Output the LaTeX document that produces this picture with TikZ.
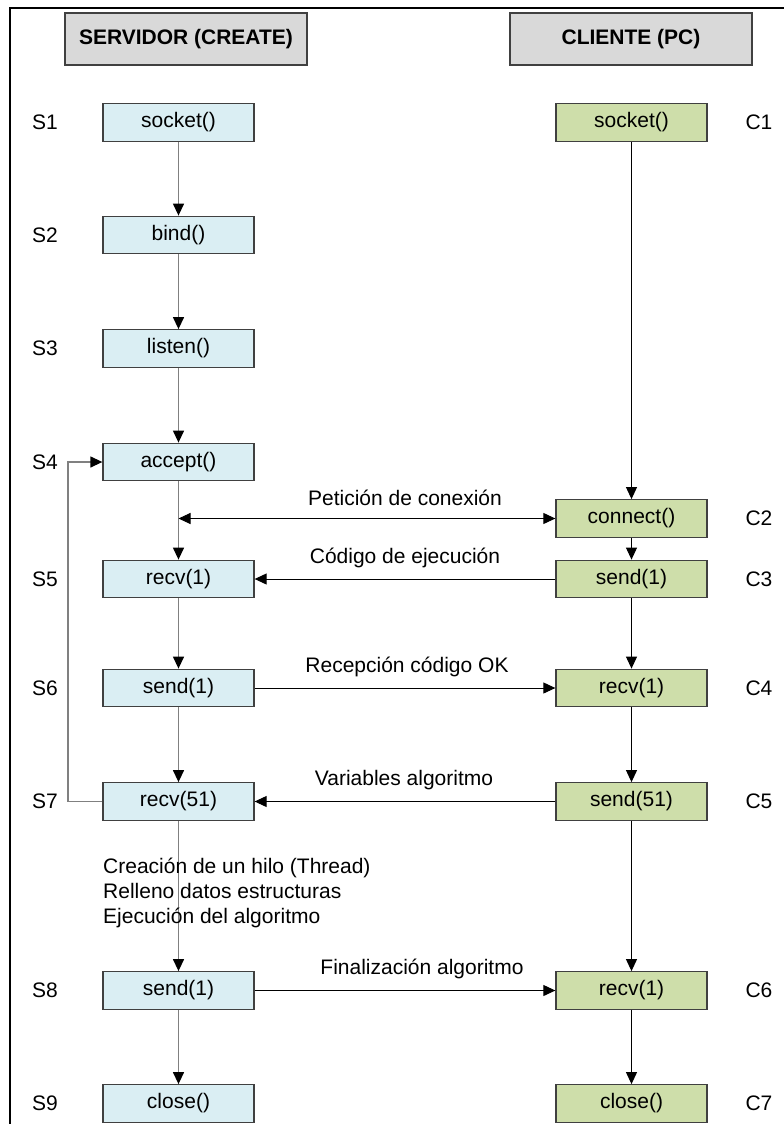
\documentclass[tikz,border=0pt]{standalone}
\usepackage{fontspec}
\setmainfont{Liberation Sans}
\usetikzlibrary{arrows.meta}
\definecolor{srvfill}{RGB}{218,238,243}
\definecolor{clifill}{RGB}{206,222,170}
\definecolor{hdrfill}{RGB}{217,217,217}
\definecolor{boxline}{RGB}{64,64,64}
\definecolor{srvline}{RGB}{128,128,128}
\tikzset{
  base/.style={font=\fontsize{21}{25}\selectfont},
  srvbox/.style={base, draw=boxline, line width=1.3pt, fill=srvfill, minimum width=151pt, minimum height=37.5pt, inner sep=0pt},
  clibox/.style={base, draw=boxline, line width=1.3pt, fill=clifill, minimum width=151pt, minimum height=37.5pt, inner sep=0pt},
  hdrbox/.style={base, font=\fontsize{21}{25}\selectfont\bfseries, draw=boxline, line width=1.3pt, fill=hdrfill, minimum width=242pt, minimum height=52pt, inner sep=0pt},
  steplbl/.style={base, inner sep=0pt},
  msglbl/.style={base, inner sep=0pt},
  tip/.style={-{Triangle[length=12pt,width=11pt,color=black,fill=black]}},
  srvarrow/.style={tip, draw=srvline, line width=1.3pt},
  cliarrow/.style={tip, draw=black, line width=1pt},
  msgarrow/.style={tip, draw=black, line width=1pt},
  frame/.style={line width=2.5pt, draw=black}
}
\begin{document}
\begin{tikzpicture}[x=1pt,y=-1pt]
\useasboundingbox (0,0) rectangle (784,1124);
% frame
\coordinate (f1) at (10,1130);
\coordinate (f2) at (10,8);
\coordinate (f3) at (790,8);
\draw[frame] (f1) -- (f2) -- (f3);
% headers
\node[hdrbox] (HS) at (186,39) {SERVIDOR (CREATE)};
\node[hdrbox] (HC) at (631,39) {CLIENTE (PC)};
% server boxes
\node[srvbox] (S1) at (178.5,122.5) {socket()};
\node[srvbox] (S2) at (178.5,235) {bind()};
\node[srvbox] (S3) at (178.5,348.5) {listen()};
\node[srvbox] (S4) at (178.5,462) {accept()};
\node[srvbox] (S5) at (178.5,579) {recv(1)};
\node[srvbox] (S6) at (178.5,688) {send(1)};
\node[srvbox] (S7) at (178.5,801.5) {recv(51)};
\node[srvbox] (S8) at (178.5,990.5) {send(1)};
\node[srvbox] (S9) at (178.5,1103.5) {close()};
% client boxes
\node[clibox] (C1) at (631.5,122.5) {socket()};
\node[clibox] (C2) at (631.5,518.5) {connect()};
\node[clibox] (C3) at (631.5,579) {send(1)};
\node[clibox] (C4) at (631.5,688) {recv(1)};
\node[clibox] (C5) at (631.5,801.5) {send(51)};
\node[clibox] (C6) at (631.5,990.5) {recv(1)};
\node[clibox] (C7) at (631.5,1103.5) {close()};
% step labels
\foreach \n/\y in {1/122.5,2/235,3/348.5,4/462,5/579,6/688,7/801.5,8/990.5,9/1103.5}
  \node[steplbl] (sl\n) at (45,\y) {S\n};
\foreach \n/\y in {1/122.5,2/518.5,3/579,4/688,5/801.5,6/990.5,7/1103.5}
  \node[steplbl] (cl\n) at (759,\y) {C\n};
% server vertical arrows
\draw[srvarrow] (S1) -- (S2);
\draw[srvarrow] (S2) -- (S3);
\draw[srvarrow] (S3) -- (S4);
\draw[srvarrow] (S4) -- (S5);
\draw[srvarrow] (S5) -- (S6);
\draw[srvarrow] (S6) -- (S7);
\draw[srvarrow] (S7) -- (S8);
\draw[srvarrow] (S8) -- (S9);
% client vertical arrows
\draw[cliarrow] (C1) -- (C2);
\draw[cliarrow] (C2) -- (C3);
\draw[cliarrow] (C3) -- (C4);
\draw[cliarrow] (C4) -- (C5);
\draw[cliarrow] (C5) -- (C6);
\draw[cliarrow] (C6) -- (C7);
% loop back
\coordinate (L1) at (68,801.5);
\coordinate (L2) at (68,462);
\draw[srvarrow] (S7.west) -- (L1) -- (L2) -- (S4.west);
% messages
\coordinate (J) at (S4.south |- C2.west);
\draw[msgarrow, {Triangle[length=12pt,width=11pt]}-{Triangle[length=12pt,width=11pt]}] (J) -- (C2.west);
\draw[msgarrow] (C3.west) -- (S5.east);
\draw[msgarrow] (S6.east) -- (C4.west);
\draw[msgarrow] (C5.west) -- (S7.east);
\draw[msgarrow] (S8.east) -- (C6.west);
\node[msglbl] (m1) at (405,498) {Petición de conexión};
\node[msglbl] (m2) at (405,558) {Código de ejecución};
\node[msglbl] (m3) at (407,667) {Recepción código OK};
\node[msglbl] (m4) at (404,780) {Variables algoritmo};
\node[msglbl] (m5) at (422,969) {Finalización algoritmo};
% note
\node[base, anchor=north west, align=left, inner sep=0pt] (note) at (103,858)
  {Creación de un hilo (Thread)\\Relleno datos estructuras\\Ejecución del algoritmo};
\end{tikzpicture}
\end{document}
